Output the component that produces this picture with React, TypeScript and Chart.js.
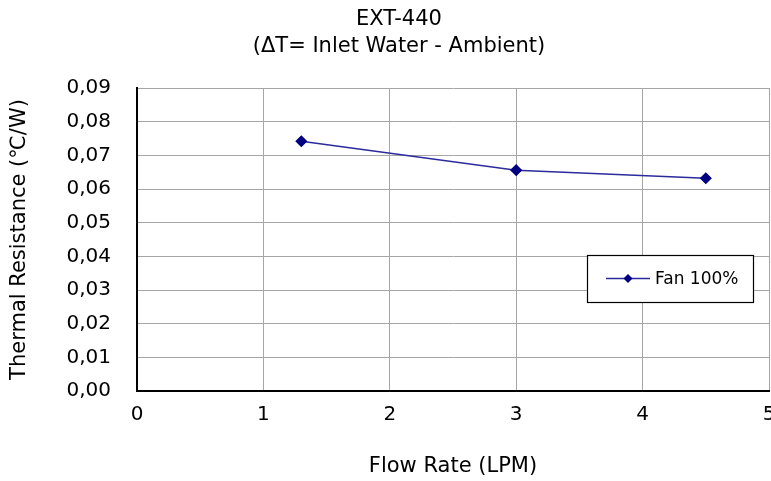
import React, { useEffect, useRef } from "react";
import { Chart, registerables } from "chart.js";

Chart.register(...registerables);

const seriesLabel = "Fan 100%";
const flowRates = [1.3, 3.0, 4.5];
const thermalResistance = [0.0742, 0.0656, 0.0632];
const titleLines = ["EXT-440", "(ΔT= Inlet Water - Ambient)"];
const xTitle = "Flow Rate (LPM)";
const yTitle = "Thermal Resistance (℃/W)";

const FONT = "'DejaVu Sans', sans-serif";
const LINE_COLOR = "#2b2b9c";
const MARK_COLOR = "#000080";

const legendBoxPlugin = {
  id: "legendBox",
  afterDraw(chart: any) {
    const ctx = chart.ctx;
    const ds = chart.data.datasets[0];
    const x0 = 587, y0 = 255, w = 166, h = 47;
    ctx.save();
    ctx.fillStyle = "#ffffff";
    ctx.fillRect(x0, y0, w, h);
    ctx.strokeStyle = "#000000";
    ctx.lineWidth = 1.2;
    ctx.strokeRect(x0 + 0.5, y0 + 0.5, w, h);
    const cy = y0 + h / 2;
    ctx.strokeStyle = ds.borderColor;
    ctx.lineWidth = 1.5;
    ctx.beginPath();
    ctx.moveTo(606, cy);
    ctx.lineTo(650, cy);
    ctx.stroke();
    ctx.fillStyle = ds.pointBackgroundColor;
    ctx.beginPath();
    ctx.moveTo(628, cy - 4.5);
    ctx.lineTo(632.5, cy);
    ctx.lineTo(628, cy + 4.5);
    ctx.lineTo(623.5, cy);
    ctx.closePath();
    ctx.fill();
    ctx.fillStyle = "#000000";
    ctx.font = `17px ${FONT}`;
    ctx.textBaseline = "middle";
    ctx.textAlign = "left";
    ctx.fillText(ds.label, 655, cy + 1);
    ctx.restore();
  },
};

export default function App() {
  const ref = useRef<HTMLCanvasElement | null>(null);

  useEffect(() => {
    if (!ref.current) return;
    const chart = new Chart(ref.current, {
      type: "line",
      data: {
        datasets: [
          {
            label: seriesLabel,
            data: flowRates.map((x, i) => ({ x, y: thermalResistance[i] })),
            borderColor: LINE_COLOR,
            borderWidth: 1.5,
            pointStyle: "rectRot",
            pointRadius: 5,
            pointBackgroundColor: MARK_COLOR,
            pointBorderColor: MARK_COLOR,
            tension: 0,
          },
        ],
      },
      options: {
        responsive: false,
        animation: false,
        layout: { autoPadding: false, padding: { left: 29, right: 2, top: 0, bottom: 0 } },
        plugins: {
          legend: { display: false },
          tooltip: { enabled: false },
          title: {
            display: true,
            text: titleLines,
            color: "#000000",
            font: { family: FONT, size: 21, weight: "normal", lineHeight: 27 / 21 },
            padding: { top: 6, bottom: 28 },
          },
        },
        scales: {
          x: {
            type: "linear",
            min: 0,
            max: 5,
            ticks: {
              stepSize: 1,
              color: "#000000",
              padding: 12,
              font: { family: FONT, size: 20 },
            },
            grid: { color: "#a6a6a6", lineWidth: 1, drawTicks: false },
            border: { color: "#000000", width: 2 },
            title: {
              display: true,
              text: xTitle,
              color: "#000000",
              font: { family: FONT, size: 21, lineHeight: 1.2 },
              padding: { top: 0, bottom: 2 },
            },
            afterFit(scale: any) {
              scale.height = 90;
              scale.paddingLeft = 0;
              scale.paddingRight = 0;
            },
          },
          y: {
            type: "linear",
            min: 0,
            max: 0.09,
            ticks: {
              stepSize: 0.01,
              color: "#000000",
              padding: 26,
              font: { family: FONT, size: 20 },
              callback: (v: any) => Number(v).toFixed(2).replace(".", ","),
            },
            grid: { color: "#a6a6a6", lineWidth: 1, drawTicks: false },
            border: { color: "#000000", width: 2 },
            title: {
              display: true,
              text: yTitle,
              color: "#000000",
              font: { family: FONT, size: 21, lineHeight: 1.2 },
              padding: { top: -22, bottom: 0 },
            },
            afterFit(scale: any) {
              scale.width = 108;
            },
          },
        },
      },
      plugins: [legendBoxPlugin],
    });
    return () => chart.destroy();
  }, []);

  return (
    <div style={{ position: "fixed", left: 0, top: 0, width: 771, height: 481, background: "#ffffff" }}>
      <canvas ref={ref} width={771} height={481} style={{ display: "block", width: 771, height: 481 }} />
    </div>
  );
}
